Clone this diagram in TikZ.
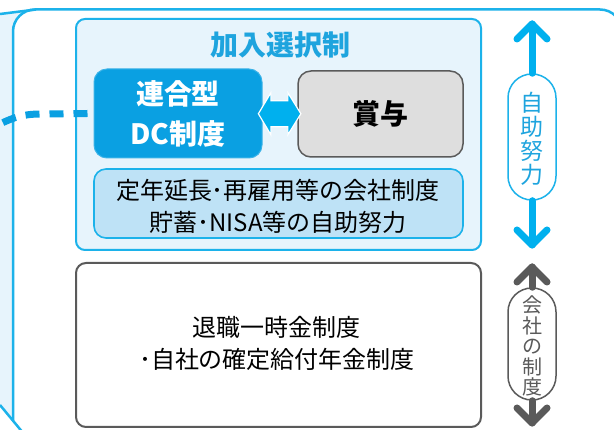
\documentclass[tikz,border=0pt]{standalone}
\usepackage{fontspec}
\setmainfont{Noto Sans CJK JP}
\usetikzlibrary{calc}
\definecolor{cyanline}{HTML}{1CB2EA}
\definecolor{paleblue}{HTML}{E7F4FC}
\definecolor{dcblue}{HTML}{0AA0E2}
\definecolor{midblue}{HTML}{BEE2F6}
\definecolor{titleblue}{HTML}{1EA4DE}
\definecolor{arrcyan}{HTML}{00B0EE}
\definecolor{darkgray}{HTML}{5A5A5A}
\definecolor{bonusgray}{HTML}{DEDEDE}
\tikzset{
  framestyle/.style={draw=cyanline, line width=2.5pt},
  groupbox/.style={draw=cyanline, fill=paleblue, line width=2pt, rounded corners=9pt},
  dcbox/.style={fill=dcblue, draw=dcblue!80!white, line width=1pt, rounded corners=13pt, text=white, font=\bfseries\fontsize{28}{40}\selectfont, align=center, inner sep=0pt},
  bonusbox/.style={fill=bonusgray, draw=darkgray, line width=1.5pt, rounded corners=13pt, font=\bfseries\fontsize{28}{30}\selectfont, inner sep=0pt},
  innerbox/.style={fill=midblue, draw=cyanline, line width=1.6pt, rounded corners=12pt},
  whitebox/.style={fill=white, draw=darkgray, line width=2pt, rounded corners=10pt},
  bodytext/.style={font=\fontsize{24}{32}\selectfont, align=center, inner sep=0pt},
  pill/.style={fill=white, line width=1.5pt, rounded corners=23.9pt, minimum width=48pt, inner sep=0pt},
  shaft/.style={line width=7pt, line cap=round, line join=round},
  dashline/.style={draw=dcblue, line width=7pt, dash pattern=on 14pt off 10pt},
  dblarrow/.style={fill=arrcyan, draw=white, line width=1.2pt, line join=miter}
}
\begin{document}
\begin{tikzpicture}[x=1pt, y=-1pt]
\useasboundingbox (0,0) rectangle (614,430);
\clip (0,0) rectangle (614,430);
% side face of the outer frame
\fill[paleblue] (0,14) -- (38,9.5) -- (13,30) -- (13,421) -- (0,405) -- cycle;
% outer frame
\draw[framestyle, fill=white, rounded corners=22pt] (13,421) -- (13,9.5) -- (622,9.5) -- (622,440);
\draw[framestyle] (0,14) -- (36,9.5);
\draw[framestyle] (0,405) -- (24,434);
% group box
\node[groupbox, minimum width=405pt, minimum height=231pt, inner sep=0pt] (group) at (278.5,134.5) {};
\node[font=\bfseries\fontsize{28}{30}\selectfont, text=titleblue, inner sep=0pt] (title) at (280,45) {加入選択制};
% DC box and bonus box
\node[dcbox, minimum width=168pt, minimum height=89pt] (dc) at (178,113.5) {連合型\\DC制度};
\node[bonusbox, minimum width=165pt, minimum height=86pt] (bonus) at (380.5,114) {賞与};
\coordinate (mid) at ($(dc.east)!0.5!(bonus.west)$);
\begin{scope}[shift={(mid)}]
\draw[dblarrow] (-21.5,0) -- (-9,-21) -- (-9,-13) -- (8,-13) -- (8,-21) -- (21,0) -- (8,21) -- (8,13) -- (-9,13) -- (-9,21) -- cycle;
\end{scope}
% inner box
\node[innerbox, minimum width=369pt, minimum height=69pt, inner sep=0pt] (inner) at (278.5,203.5) {};
\node[bodytext] (innertext) at (278,206) {定年延長･再雇用等の会社制度\\貯蓄･NISA等の自助努力};
% bottom box
\node[whitebox, minimum width=405pt, minimum height=164pt, inner sep=0pt] (company) at (278.5,345) {};
\node[bodytext] (companytext) at (277,343) {退職一時金制度\\･自社の確定給付年金制度};
% dashed connector
\coordinate (dashend) at ($(dc.west)+(-6,0)$);
\coordinate (dashstart) at (0,124);
\draw[dashline] (dashend) -- (40,114) .. controls (25,114) and (14,117) .. (dashstart);
% self-help arrow
\node[pill, draw=cyanline, minimum height=126pt] (selfpill) at (532,137) {};
\node[text=titleblue, font=\fontsize{23}{24}\selectfont, align=center, inner sep=0pt] (selftext) at (532,139) {自\\助\\努\\力};
\coordinate (selftop) at (532,24);
\coordinate (selfbot) at (532,245);
\draw[shaft, draw=arrcyan] (selfpill.north) -- (selftop);
\draw[shaft, draw=arrcyan] ($(selftop)+(-15,15)$) -- (selftop) -- ($(selftop)+(15,15)$);
\draw[shaft, draw=arrcyan] (selfpill.south) -- (selfbot);
\draw[shaft, draw=arrcyan] ($(selfbot)+(-15,-15)$) -- (selfbot) -- ($(selfbot)+(15,-15)$);
% company arrow
\node[pill, draw=darkgray, minimum height=112pt] (comppill) at (532,344) {};
\node[text=darkgray, font=\fontsize{20}{20.5}\selectfont, align=center, inner sep=0pt] (comptext) at (532,346) {会\\社\\の\\制\\度};
\coordinate (comptop) at (532,267);
\coordinate (compbot) at (532,423);
\draw[shaft, draw=darkgray] (comppill.north) -- (comptop);
\draw[shaft, draw=darkgray] ($(comptop)+(-15,15)$) -- (comptop) -- ($(comptop)+(15,15)$);
\draw[shaft, draw=darkgray] (comppill.south) -- (compbot);
\draw[shaft, draw=darkgray] ($(compbot)+(-15,-15)$) -- (compbot) -- ($(compbot)+(15,-15)$);
\end{tikzpicture}
\end{document}
